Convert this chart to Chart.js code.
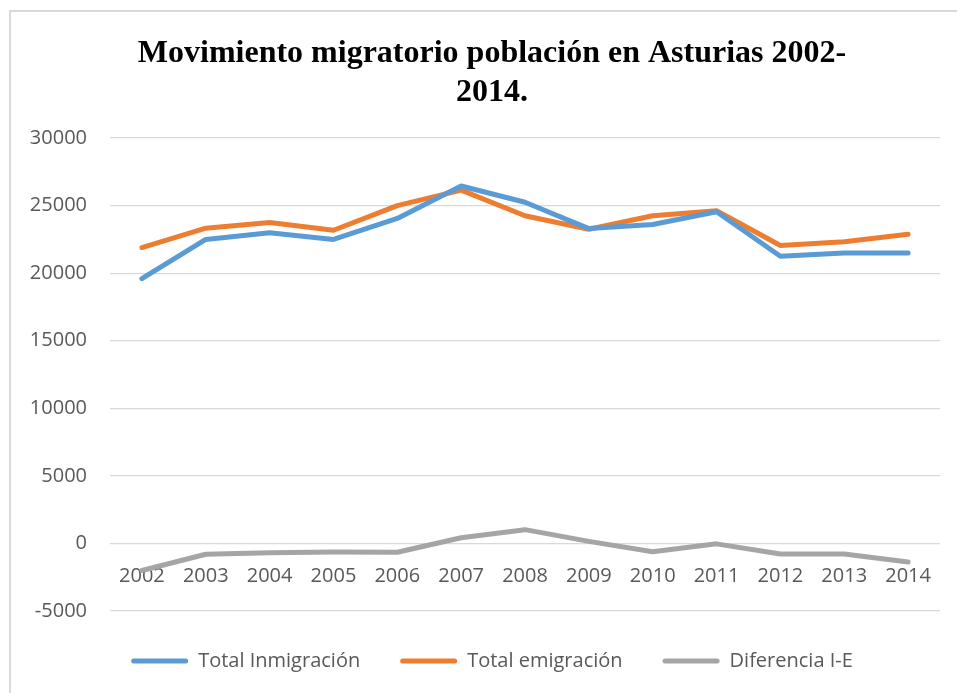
<!DOCTYPE html>
<html>
<head>
<meta charset="utf-8">
<script src="https://cdn.jsdelivr.net/npm/chart.js@4.4.1/dist/chart.umd.min.js"></script>
<style>
  body { margin: 0; background: #fff; overflow: hidden; }
  #marco { position: absolute; left: 9px; top: 10px; width: 2000px; height: 2000px;
           border-left: 2px solid #d9d9d9; border-top: 2px solid #d9d9d9; }
  #caja { position: absolute; left: 10px; top: 11px; }
</style>
</head>
<body>
<div id="marco"></div>
<div id="caja"><canvas id="grafico" width="950" height="682"></canvas></div>
<script>
const graf = document.getElementById("grafico");

let anos = ["2002", "2003", "2004", "2005", "2006", "2007", "2008", "2009", "2010", "2011", "2012", "2013", "2014"];
let inmigracion = [19600, 22500, 23000, 22500, 24050, 26450, 25250, 23300, 23600, 24550, 21250, 21500, 21500];
let emigracion = [21900, 23330, 23750, 23180, 25000, 26150, 24250, 23250, 24250, 24620, 22050, 22330, 22880];
let diferencia = [-2000, -800, -680, -630, -650, 420, 1020, 150, -620, -30, -780, -780, -1380];

const gris = "#595959";
const fuente = "'Open Sans', sans-serif";

function serie(nombre, datos, color) {
    return {
        label: nombre,
        data: datos,
        borderColor: color,
        backgroundColor: color,
        borderWidth: 5,
        pointRadius: 0,
        tension: 0,
        borderCapStyle: "round",
        borderJoinStyle: "round"
    };
}

let conf = {
    type: "line",
    data: {
        labels: anos,
        datasets: [
            serie("Total Inmigración", inmigracion, "#5B9BD5"),
            serie("Total emigración", emigracion, "#ED7D31"),
            serie("Diferencia I-E", diferencia, "#A5A5A5")
        ]
    },
    options: {
        responsive: false,
        animation: false,
        devicePixelRatio: 1,
        layout: { padding: { left: 14, right: 0, top: 0, bottom: 12 } },
        plugins: {
            title: {
                display: true,
                text: ["Movimiento migratorio población en Asturias 2002-", "2014."],
                color: "#000",
                font: { family: "'Liberation Serif', 'Times New Roman', serif", size: 32, weight: "bold", lineHeight: 1.22 },
                padding: { top: 23, bottom: 26 }
            },
            legend: {
                position: "bottom",
                labels: {
                    color: gris,
                    font: { family: fuente, size: 20 },
                    boxWidth: 57,
                    boxHeight: 5,
                    useBorderRadius: true,
                    borderRadius: 2.5,
                    padding: 40,
                    generateLabels(chart) {
                        return Chart.defaults.plugins.legend.labels.generateLabels(chart)
                            .map(l => Object.assign(l, { lineWidth: 0 }));
                    }
                }
            },
            tooltip: { enabled: false }
        },
        scales: {
            x: {
                position: { y: 0 },
                offset: true,
                grid: { display: false },
                border: { display: false },
                ticks: { color: gris, font: { family: fuente, size: 20 }, padding: 13, maxRotation: 0 }
            },
            y: {
                min: -5000,
                max: 30000,
                afterFit(scale) { scale.width = 86; },
                grid: { color: "#d9d9d9", lineWidth: 1.3, drawTicks: false },
                border: { display: false },
                ticks: { stepSize: 5000, color: gris, font: { family: fuente, size: 20 }, padding: 23,
                         callback: v => String(v) }
            },
            // margen derecho vacío
            derecha: {
                axis: "y",
                position: "right",
                grid: { display: false },
                border: { display: false },
                ticks: { display: false },
                afterFit(scale) { scale.width = 20; }
            }
        }
    }
};

new Chart(graf, conf);
</script>
</body>
</html>
